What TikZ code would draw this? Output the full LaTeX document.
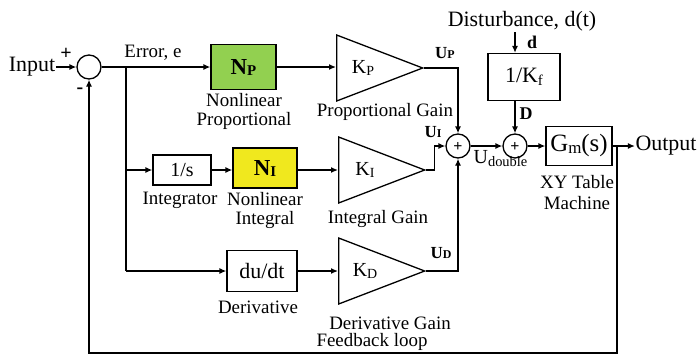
\documentclass[tikz,border=0pt]{standalone}
\usepackage{fontspec}
\setmainfont{Liberation Serif}
\usetikzlibrary{shapes.geometric,arrows.meta,calc}
\definecolor{npgreen}{RGB}{146,208,80}
\definecolor{niyellow}{RGB}{240,232,30}
\newcommand{\fs}[1]{\fontsize{#1}{#1}\selectfont}
\newcommand{\lowsub}[2]{\raisebox{-#1}{#2}}
\begin{document}
\begin{tikzpicture}[x=1bp,y=-1bp, line width=1.3bp,
  arr/.style={-{Latex[length=7bp,width=6bp]}},
  lbl/.style={font=\fs{19}, inner sep=0},
  big/.style={font=\fs{22}, inner sep=0},
  sumc/.style={draw, circle, minimum size=24bp, inner sep=0},
  blk/.style={draw, inner sep=0, font=\fs{22}},
  gain/.style={draw, isosceles triangle, isosceles triangle stretches,
    shape border rotate=0, minimum width=66bp, minimum height=86bp, inner sep=0,
    anchor=lower side},
  ktext/.style={inner sep=0, font=\fs{20}},
  ulbl/.style={inner sep=0, font=\fs{17}\bfseries},
  sgn/.style={inner sep=0, font=\fs{20}\bfseries},
  splus/.style={inner sep=0, font=\fs{16}\bfseries}]
\useasboundingbox (0,0) rectangle (699,355);

% input and first summing junction
\node[big] (in) at (32,67) {Input};
\node[sumc] (s1) at (89,67) {};
\node[sgn] (plus1) at (66,54) {+};
\node[sgn] (minus1) at (80,91) {-};
\node[lbl] (err) at (153,53) {Error, e};
\coordinate (br) at (126,67);

% proportional row
\node[blk, fill=npgreen, minimum width=65bp, minimum height=45bp] (NP) at (243.5,67)
  {\fs{23}\bfseries N\lowsub{1bp}{\fs{15}\bfseries P}};
\node[lbl] (npl1) at (244,100) {Nonlinear};
\node[lbl] (npl2) at (244,121) {Proportional};
\node[gain] (KP) at (336,68) {};
\node[ktext] (kpt) at ([xshift=27bp]KP.lower side) {K\lowsub{2bp}{\fs{14}P}};
\node[lbl] (kpl) at (385,112) {Proportional Gain};
\node[ulbl] (up) at (445,53) {U\lowsub{0.5bp}{\fs{12}\bfseries P}};

% integral row
\node[blk, fill=white, minimum width=58bp, minimum height=30bp] (int) at (182,170) {\fs{20}1/s};
\node[lbl] (intl) at (180,200) {Integrator};
\node[blk, fill=niyellow, minimum width=64bp, minimum height=40bp] (NI) at (265,168)
  {\fs{23}\bfseries N\lowsub{1bp}{\fs{15}\bfseries I}};
\node[lbl] (nil1) at (265,199) {Nonlinear};
\node[lbl] (nil2) at (265,220) {Integral};
\node[gain] (KI) at (338,170) {};
\node[ktext] (kit) at ([xshift=27bp]KI.lower side) {K\lowsub{2bp}{\fs{14}I}};
\node[lbl] (kil) at (378,219) {Integral Gain};
\node[ulbl] (ui) at (433,132) {U\lowsub{0.5bp}{\fs{12}\bfseries I}};

% derivative row
\node[blk, fill=white, minimum width=70bp, minimum height=41bp] (der) at (262,271) {du/dt};
\node[lbl] (derl) at (258,307) {Derivative};
\node[gain] (KD) at (338,271) {};
\node[ktext] (kdt) at ([xshift=27bp]KD.lower side) {K\lowsub{2bp}{\fs{14}D}};
\node[lbl] (kdl) at (390,323) {Derivative Gain};
\node[ulbl] (ud) at (441,253) {U\lowsub{0.5bp}{\fs{12}\bfseries D}};

% summing junctions and plant
\node[sumc] (s2) at (458,146) {};
\node[splus] (p2) at (458,146.5) {+};
\node[sumc] (s3) at (515,146) {};
\node[splus] (p3) at (515,146.5) {+};
\node[anchor=base west, inner sep=0, font=\fs{20}] (udbl) at (473,163)
  {U\lowsub{3bp}{\fs{14.5}double}};
\node[blk, fill=white, minimum width=72bp, minimum height=47bp] (Kf) at (524,77)
  {1/K\lowsub{3bp}{\fs{15}f}};
\coordinate (dtop) at (515,32);
\node[big] (dist) at (522,21) {Disturbance, d(t)};
\node[inner sep=0, font=\fs{18}\bfseries] (dl) at (532,42) {d};
\node[inner sep=0, font=\fs{18}\bfseries] (Dl) at (526,114) {D};
\node[blk, fill=white, minimum width=66bp, minimum height=39bp] (Gm) at (579,146)
  {\fs{25}G\lowsub{2bp}{\fs{17}m}(s)};
\node[lbl] (xy1) at (577,182) {XY Table};
\node[lbl] (xy2) at (577,203) {Machine};
\node[big] (out) at (666,146) {Output};
\coordinate (fb) at (617,146);
\coordinate (fbb) at (617,353);
\node[lbl] (fbl) at (372,342) {Feedback loop};

% connectors
\draw[arr] (in.east) -- (s1.west);
\draw[arr] (s1.east) -- (NP.west);
\draw (br) -- (br |- der.west);
\draw[arr] (br |- int.west) -- (int.west);
\draw[arr] (br |- der.west) -- (der.west);
\draw[arr] (NP.east) -- (NP.east -| KP.lower side);
\draw[arr] (int.east) -- (int.east -| NI.west);
\draw[arr] (NI.east |- KI.lower side) -- (KI.lower side);
\draw[arr] (der.east) -- (der.east -| KD.lower side);
\draw[arr] (KP.apex) -| (s2.north);
\draw[arr] (KI.apex) -- ++(8,0) |- (s2.west);
\draw[arr] (KD.apex) -| (s2.south);
\draw[arr] (s2.east) -- (s3.west);
\draw[arr] (dtop) -- (dtop |- Kf.north);
\draw[arr] (s3.north |- Kf.south) -- (s3.north);
\draw[arr] (s3.east) -- (Gm.west);
\draw[arr] (Gm.east) -- (out.west);
\draw[arr] (fb) -- (fbb) -| (s1.south);
\end{tikzpicture}
\end{document}
